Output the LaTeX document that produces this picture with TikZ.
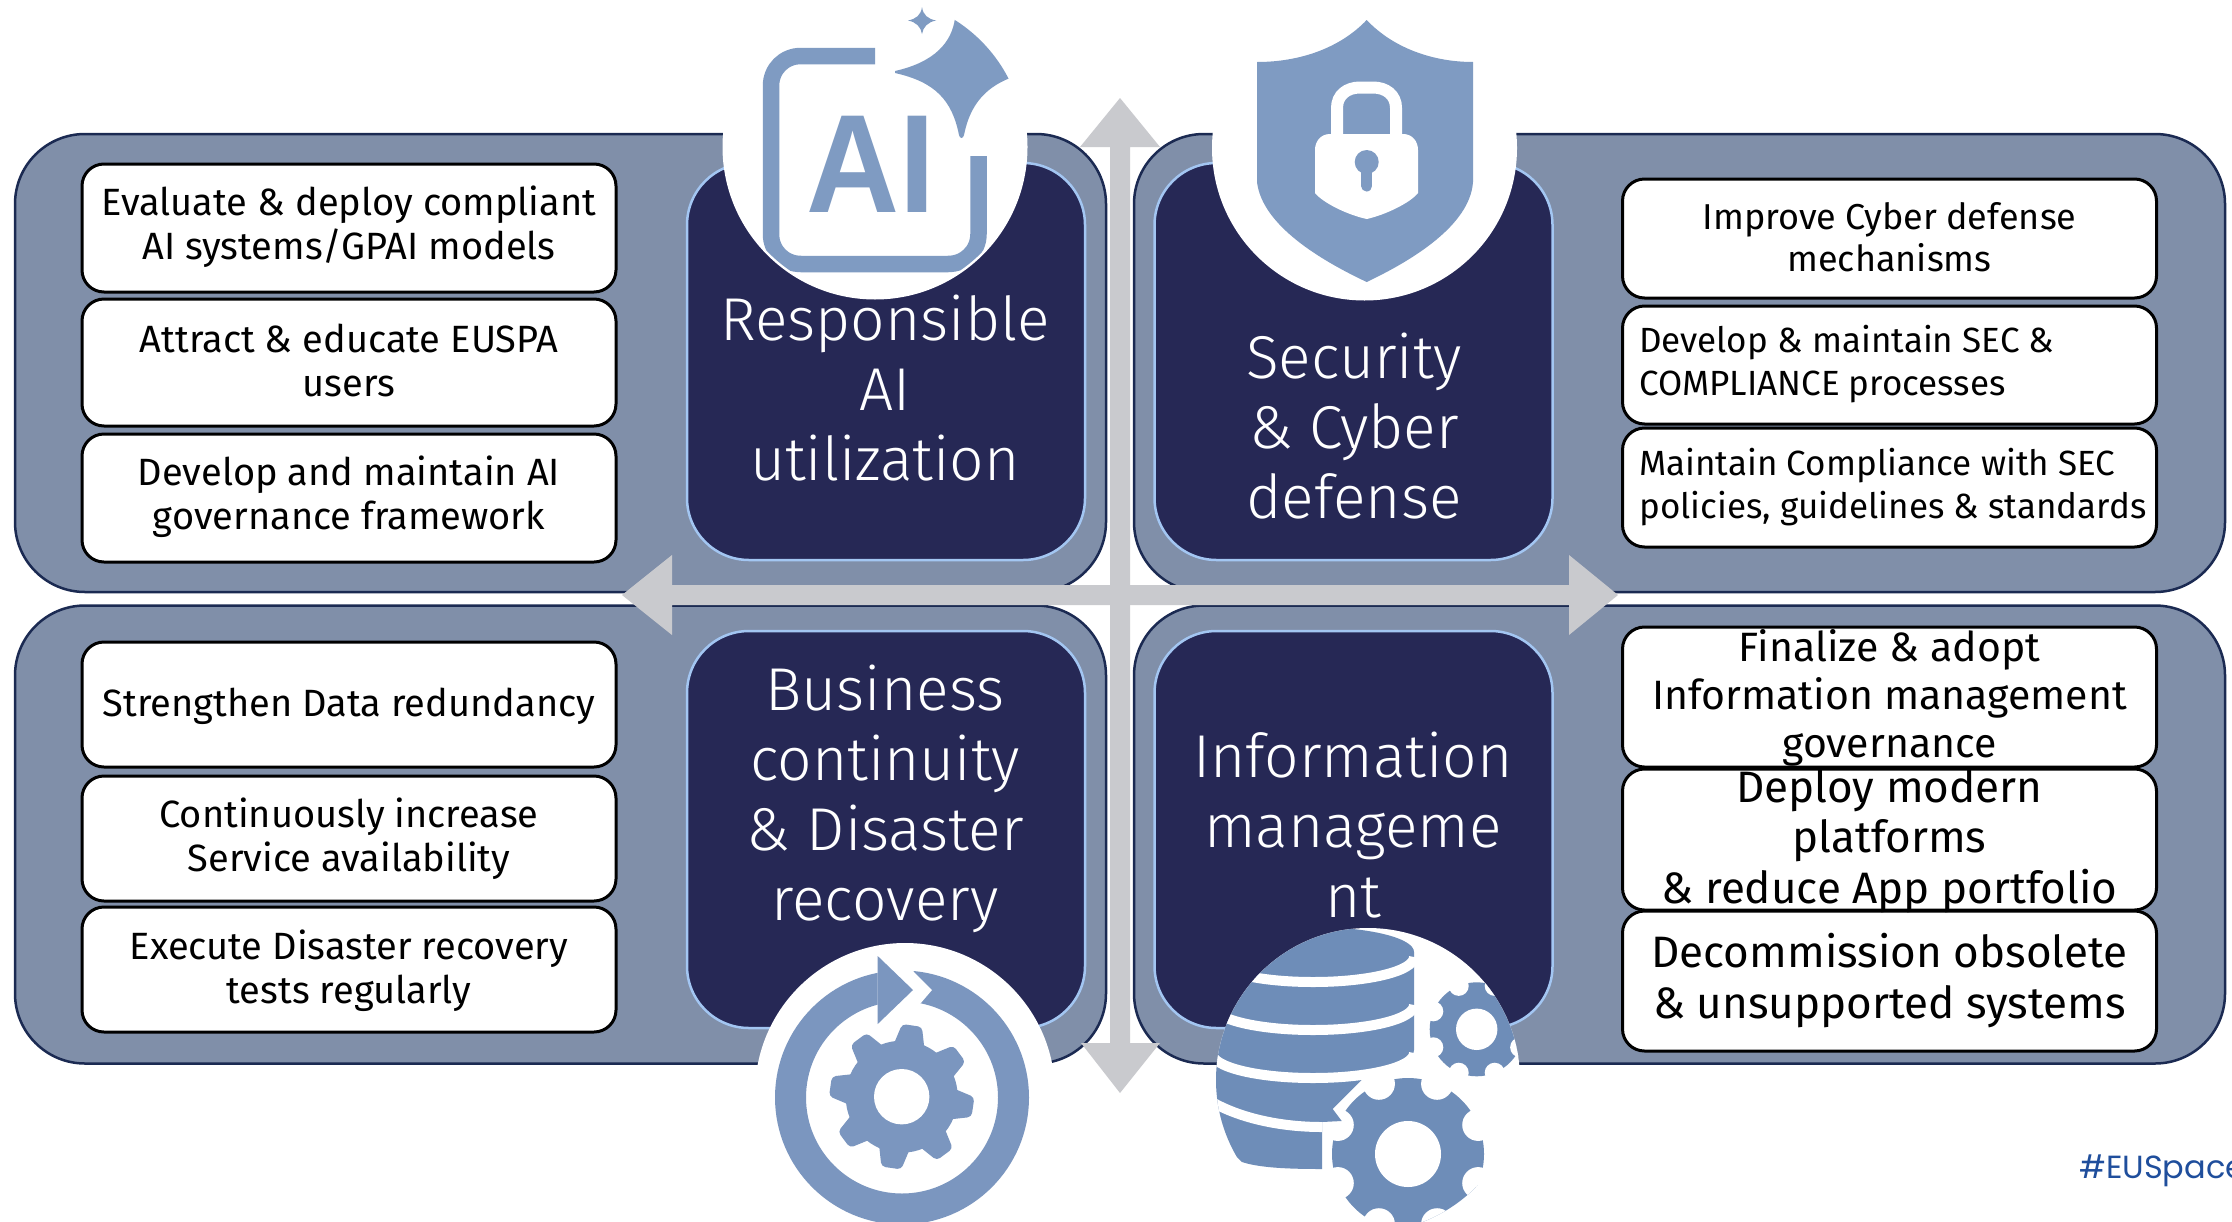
\documentclass[tikz,border=0pt]{standalone}
\usepackage{fontspec}
\setmainfont{Fira Sans}
\newfontfamily\headfont{Fira Sans}[UprightFont=* Light]
\newfontfamily\iconfont{Liberation Sans}
\newfontfamily\tagfont{Poppins}
\definecolor{bandfill}{HTML}{808FA9}
\definecolor{bandline}{HTML}{1B2A52}
\definecolor{corefill}{HTML}{262855}
\definecolor{coreline}{HTML}{A3C6F2}
\definecolor{arrowgrey}{HTML}{C9CACE}
\definecolor{iconA}{HTML}{7F9BC2}
\definecolor{iconB}{HTML}{7B96BF}
\definecolor{iconC}{HTML}{6E8DB8}
\definecolor{tagblue}{HTML}{1F4E9C}
\tikzset{
  band/.style={draw=bandline,fill=bandfill,line width=2.5pt,rounded corners=70pt,inner sep=0pt,outer sep=0pt,minimum width=1091pt,minimum height=458pt},
  corebox/.style={draw=coreline,fill=corefill,line width=2.5pt,rounded corners=62pt,inner sep=0pt,outer sep=0pt,minimum width=398pt,minimum height=397pt},
  taskbox/.style={draw=black,fill=white,line width=3pt,rounded corners=22pt,inner sep=0pt,outer sep=0pt,minimum width=534pt},
  corelabel/.style={text=white,align=center,inner sep=0pt,font=\headfont\fontsize{60.5}{70}\selectfont},
  tasklabel/.style={text=black,align=center,inner sep=0pt,font=\fontsize{38}{44}\selectfont},
  disc/.style={fill=white,draw=none},
}
\newcommand{\notchgear}[6]{% cx cy R notchR holeR colour
  \fill[#6] (#1,#2) circle (#3);
  \foreach \a in {22.5,67.5,...,337.5}{\fill[white] ({#1+#3*cos(\a)},{#2+#3*sin(\a)}) circle (#4);}
  \fill[white] (#1,#2) circle (#5);
}
\newcommand{\dbgap}[1]{\draw[white,line width=10pt] (1414,{#1-25}) .. controls (1414,{#1-11}) and (1369,#1) .. (1313,#1) .. controls (1257,#1) and (1212,{#1-11}) .. (1212,{#1-25});}
\begin{document}
\begin{tikzpicture}[x=1pt,y=-1pt]
\clip (0,0) rectangle (2232,1221);
\fill[white] (0,0) rectangle (2232,1221);
% bands
\node[band] (bandTL) at (560.5,363) {};
\node[band] (bandTR) at (1679.5,363) {};
\node[band] (bandBL) at (560.5,834.5) {};
\node[band] (bandBR) at (1679.5,834.5) {};
% core boxes
\node[corebox] (coreTL) at (886,361.5) {};
\node[corebox] (coreTR) at (1353.5,361.5) {};
\node[corebox] (coreBL) at (886,829.5) {};
\node[corebox] (coreBR) at (1353.5,829.5) {};
% arrows
\fill[arrowgrey] (1120,98) -- (1160,147) -- (1130,147) -- (1130,1043) -- (1160,1043) -- (1120,1093) -- (1081,1043) -- (1110,1043) -- (1110,147) -- (1080,147) -- cycle;
\fill[arrowgrey] (622,595) -- (672,555) -- (672,585) -- (1569,585) -- (1569,555) -- (1618,595) -- (1569,635) -- (1569,605) -- (672,605) -- (672,635) -- cycle;
% task boxes left
\node[taskbox,minimum height=128pt] (t1) at (349,228) {};
\node[taskbox,minimum height=127pt] (t2) at (349,362.5) {};
\node[taskbox,minimum height=128pt] (t3) at (349,498) {};
\node[taskbox,minimum height=125pt] (b1) at (349,704.5) {};
\node[taskbox,minimum height=125pt] (b2) at (349,838.5) {};
\node[taskbox,minimum height=125pt] (b3) at (349,969.5) {};
% task boxes right
\node[taskbox,minimum height=119pt] (r1) at (1889.5,238.5) {};
\node[taskbox,minimum height=118pt] (r2) at (1889.5,365) {};
\node[taskbox,minimum height=119pt] (r3) at (1889.5,487.5) {};
\node[taskbox,minimum height=140pt] (s1) at (1889.5,697) {};
\node[taskbox,minimum height=141pt] (s2) at (1889.5,839.5) {};
\node[taskbox,minimum height=140pt] (s3) at (1889.5,981) {};
% task labels
\node[tasklabel] (lt1) at (349,227) {Evaluate \& deploy compliant\\AI systems/GPAI models};
\node[tasklabel] (lt2) at (349,360) {Attract \& educate EUSPA\\users};
\node[tasklabel] (lt3) at (349,497) {Develop and maintain AI\\governance framework};
\node[tasklabel] (lb1) at (349,706) {Strengthen Data redundancy};
\node[tasklabel] (lb2) at (349,839) {Continuously increase\\Service availability};
\node[tasklabel] (lb3) at (349,971) {Execute Disaster recovery\\tests regularly};
\node[tasklabel,font=\fontsize{36}{42.5}\selectfont] (lr1) at (1889.5,237) {Improve Cyber defense\\mechanisms};
\node[tasklabel,anchor=west,align=left,font=\fontsize{35}{42.5}\selectfont] (lr2) at (1639,364) {Develop \& maintain SEC \&\\COMPLIANCE processes};
\node[tasklabel,anchor=west,align=left,font=\fontsize{35}{42.5}\selectfont] (lr3) at (1639,487) {Maintain Compliance with SEC\\policies, guidelines \& standards};
\node[tasklabel,font=\fontsize{41}{48}\selectfont] (ls1) at (1889.5,698) {Finalize \& adopt\\Information management\\governance};
\node[tasklabel,font=\fontsize{44}{50.5}\selectfont] (ls2) at (1889.5,841) {Deploy modern\\platforms\\\& reduce App portfolio};
\node[tasklabel,font=\fontsize{44}{51}\selectfont] (ls3) at (1889.5,981) {Decommission obsolete\\\& unsupported systems};
% core labels
\node[corelabel] (lcTL) at (885,388) {Responsible\\AI\\utilization};
\node[corelabel] (lcTR) at (1354,426) {Security\\\& Cyber\\defense};
\node[corelabel] (lcBL) at (885,799) {Business\\continuity\\\& Disaster\\recovery};
\node[corelabel] (lcBR) at (1353,825) {Information\\manageme\\nt};
% AI icon
\fill[disc] (875,147) circle (152.5);
\begin{scope}
\clip (875,147) circle (150);
\draw[iconA,line width=16.5pt] (875,56) -- (801,56) .. controls (784,56) and (771,69) .. (771,86) -- (771,234) .. controls (771,251) and (784,264) .. (801,264) -- (948,264) .. controls (965,264) and (978.5,251) .. (978.5,234) -- (978.5,156);
\fill[iconA] (895,71) .. controls (935,62) and (952,42) .. (955,18) -- (1060,18) -- (1060,72) -- (1010,78) .. controls (985,88) and (970,105) .. (964,135) .. controls (963,139) and (960,139) .. (959,135) .. controls (952,100) and (935,82) .. (895,73) -- cycle;
\end{scope}
\fill[iconA] (922,7) .. controls (923,15) and (928,19) .. (936,20.5) .. controls (928,22) and (923,27) .. (922,34) .. controls (921,27) and (916,22) .. (908,20.5) .. controls (916,19) and (921,15) .. (922,7) -- cycle;
\node[text=iconA,inner sep=0pt,xscale=.92,transform shape,font=\iconfont\bfseries\fontsize{140}{140}\selectfont] (aiGlyph) at (871,164) {AI};
% shield icon
\fill[disc] (1364.5,148) circle (152.5);
\fill[iconA] (1366.7,20) .. controls (1340,48) and (1300,62) .. (1257,62) -- (1257,182) .. controls (1262,225) and (1320,260) .. (1366.7,282) .. controls (1413,260) and (1470,225) .. (1473,182) -- (1473,62) .. controls (1433,62) and (1393,48) .. (1366.7,20) -- cycle;
\draw[white,line width=12pt] (1337,140) -- (1337,108) .. controls (1337,95) and (1347,87.5) .. (1360,87.5) -- (1373,87.5) .. controls (1386,87.5) and (1396,95) .. (1396,108) -- (1396,140);
\fill[white] (1330,134) -- (1403,134) .. controls (1412,134) and (1418,141) .. (1418,150) -- (1418,193) .. controls (1410,203) and (1385,215) .. (1366.7,219) .. controls (1348,215) and (1323,203) .. (1315,193) -- (1315,150) .. controls (1315,141) and (1321,134) .. (1330,134) -- cycle;
\fill[iconA] (1366.7,162) circle (12);
\draw[iconA,line width=11pt,line cap=round] (1366.7,165) -- (1366.7,186);
% refresh icon
\fill[disc] (905,1093) circle (150);
\draw[iconB,line width=31pt] (902,1097.5) circle (111.5);
\fill[white] (877.7,958) -- (903,958) -- (914,972) -- (932,990) -- (920,1004) -- (903,1016) -- (877.7,1016) -- cycle;
\fill[iconB] (877.7,956) -- (913,990) -- (877.7,1024) -- cycle;
\fill[iconB] (901.7,1096.7) circle (56);
\foreach \a in {81.7,36.7,...,-233.3}{
  \fill[iconB,rounded corners=4pt,shift={(901.7,1096.7)},rotate=\a] (45,-17) -- (72,-10) -- (72,10) -- (45,17) -- cycle;
}
\fill[white] (901.7,1096.7) circle (27.7);
% database icon
\fill[disc] (1368,1080) circle (152);
\begin{scope}
\clip (1368,1080) circle (152);
\notchgear{1408}{1154}{76}{16}{33}{iconC}
\notchgear{1476.7}{1029.3}{47}{10}{20.7}{iconC}
\fill[iconC] (1212,952) .. controls (1212,938) and (1257,927) .. (1313,927) .. controls (1369,927) and (1414,938) .. (1414,952) -- (1414,1050) .. controls (1414,1064) and (1369,1075) .. (1313,1075) .. controls (1257,1075) and (1212,1064) .. (1212,1050) -- cycle;
\fill[iconC] (1361.7,1080) -- (1332.7,1109) -- (1341.7,1121) -- (1322,1122) -- (1322,1169) .. controls (1290,1169) and (1260,1168) .. (1242,1162) -- (1180,1100) -- (1180,1060) -- (1361.7,1060) -- cycle;
\dbgap{982}
\dbgap{1030}
\dbgap{1078}
\draw[white,line width=10pt] (1322,1127) .. controls (1280,1127) and (1240,1118) .. (1212,1102);
\end{scope}
% tag
\node[text=tagblue,anchor=base west,inner sep=0pt,font=\tagfont\fontsize{32}{36}\selectfont] (tag) at (2079,1178) {\#EUSpace};
\end{tikzpicture}
\end{document}
